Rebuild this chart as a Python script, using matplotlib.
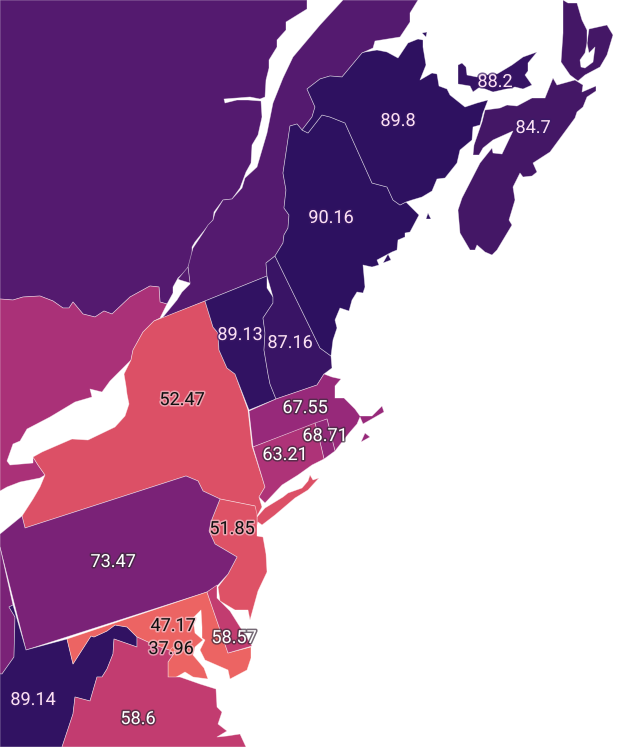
import matplotlib
matplotlib.use("Agg")
import matplotlib.pyplot as plt
import matplotlib.patheffects as pe
from matplotlib.collections import PolyCollection
from matplotlib.colors import Normalize, LinearSegmentedColormap

plt.rcParams['font.family'] = ['Roboto', 'DejaVu Sans']

quebec_w = [(0,0),(307,0),(307,9),(286,22),(286,30),(277,40),(277,47),(269,60),(269,68),(266,80),(265,97),(260,99),(250,97),(237,98),(224,99),(225,103),(237,100),(248,100),(261,101),(262,117),(258,135),(252,145),(251,163),(246,172),(240,188),(232,199),(223,200),(214,212),(213,220),(207,227),(195,242),(192,247),(192,258),(187,270),(178,278),(173,287),(173,293),(167,304),(160,302),(159,287),(150,286),(130,297),(112,314),(104,311),(95,317),(83,314),(73,302),(69,308),(63,308),(53,301),(40,296),(23,297),(13,300),(0,299)]
quebec_e = [(343,0),(418,0),(410,13),(410,22),(400,37),(375,41),(373,48),(362,53),(342,77),(330,76),(320,79),(307,89),(315,107),(312,117),(302,130),(297,124),(290,126),(283,173),(286,190),(284,208),(289,215),(288,228),(284,235),(283,243),(275,256),(266,263),(267,276),(205,301),(160,319),(163,317),(177,300),(182,292),(190,284),(188,267),(193,248),(203,233),(208,225),(213,220),(215,213),(223,200),(232,199),(242,188),(245,178),(257,167),(267,133),(273,103),(283,78),(293,57),(320,25)]
quebec_isle = [(178,279),(188,267),(190,283),(180,280)]
ontario = [(0,299),(13,300),(23,297),(40,296),(53,301),(63,308),(69,308),(73,302),(83,314),(95,317),(104,311),(112,314),(130,297),(150,286),(159,287),(160,302),(167,304),(160,318),(154,321),(143,332),(133,350),(131,360),(117,374),(110,381),(102,392),(90,389),(92,397),(75,402),(50,417),(27,429),(20,441),(13,444),(7,461),(10,465),(33,463),(33,457),(38,465),(45,475),(40,478),(20,482),(7,487),(0,491)]
new_york = [(154,321),(205,301),(213,327),(218,333),(219,350),(227,368),(235,374),(248,410),(252,446),(265,487),(259,497),(262,507),(256,518),(255,506),(220,499),(203,491),(198,481),(186,476),(25,528),(22,516),(33,499),(40,487),(45,475),(38,465),(33,457),(42,452),(72,439),(88,440),(115,427),(125,416),(129,404),(127,394),(126,386),(124,374),(131,360),(133,350),(143,332)]
long_island = [(257,517),(265,508),(283,497),(288,493),(302,488),(308,481),(310,475),(313,480),(319,478),(308,490),(295,498),(275,515),(262,525),(258,522),(257,525)]
vermont = [(205,301),(267,276),(267,288),(273,297),(273,303),(263,318),(265,333),(264,350),(268,374),(270,384),(276,399),(249,410),(235,374),(227,368),(219,350),(218,333),(213,327)]
new_hampshire = [(267,276),(273,297),(273,303),(263,318),(265,333),(264,350),(268,374),(270,384),(276,399),(317,385),(324,374),(332,368),(331,356),(320,348),(275,256),(266,263)]
maine = [(297,124),(302,130),(308,133),(322,115),(330,117),(345,123),(372,183),(387,187),(393,200),(400,205),(406,202),(419,215),(410,232),(405,233),(405,237),(398,240),(397,250),(392,252),(377,260),(379,265),(372,267),(363,265),(365,287),(363,293),(357,292),(352,300),(349,311),(340,308),(335,320),(337,328),(333,340),(331,356),(320,348),(275,256),(283,243),(284,235),(288,228),(289,215),(284,208),(286,190),(283,173),(290,126)]
maine_isle = [(383,263),(388,254),(391,260)]
new_brunswick = [(320,79),(307,89),(315,107),(312,117),(302,130),(308,133),(322,115),(330,117),(345,123),(372,183),(387,187),(393,200),(400,205),(406,202),(412,200),(422,197),(432,191),(437,179),(445,178),(457,163),(460,150),(472,140),(473,127),(480,125),(483,113),(488,100),(477,103),(465,107),(450,95),(447,89),(439,86),(437,74),(432,73),(420,80),(426,65),(423,47),(423,40),(418,39),(408,43),(398,58),(387,52),(377,50),(365,52),(362,53),(342,77),(330,76)]
nb_isle_a = [(422,33),(427,32),(426,37)]
nb_isle_b = [(426,219),(428,213),(431,219)]
pei = [(458,65),(462,63),(466,67),(467,75),(477,77),(487,75),(497,74),(512,65),(523,57),(537,52),(528,63),(528,71),(525,75),(532,85),(523,89),(515,87),(493,92),(480,87),(473,92),(470,86),(458,84)]
cape_breton = [(563,0),(568,3),(577,3),(582,20),(587,30),(587,43),(585,53),(580,60),(581,67),(585,68),(593,62),(595,47),(589,53),(587,43),(589,29),(607,25),(613,35),(607,55),(600,67),(585,75),(578,81),(570,75),(561,62),(563,33)]
nova_scotia = [(553,78),(557,85),(575,80),(583,85),(582,92),(596,86),(596,91),(587,97),(583,107),(577,112),(575,118),(550,152),(533,163),(537,172),(532,176),(523,177),(520,173),(513,187),(515,200),(509,220),(512,225),(497,250),(492,255),(485,252),(477,245),(475,250),(470,250),(460,233),(458,210),(462,198),(480,163),(492,148),(493,153),(502,154),(513,131),(493,140),(483,148),(479,155),(473,155),(474,145),(482,122),(485,110),(500,108),(507,105),(517,106),(532,98),(545,98)]
massachusetts = [(249,411),(276,399),(317,385),(324,374),(332,377),(341,379),(335,386),(335,398),(344,398),(355,409),(360,416),(372,416),(382,406),(384,412),(363,424),(360,417),(357,424),(350,432),(346,437),(335,451),(327,419),(253,447)]
ma_isle = [(361,442),(365,433),(370,437)]
rhode_island = [(315,423),(327,419),(335,451),(324,459),(320,442)]
connecticut = [(253,447),(315,423),(320,442),(324,459),(312,465),(298,475),(282,485),(265,503),(259,497),(265,487)]
new_jersey = [(220,499),(255,506),(257,514),(257,536),(263,537),(266,554),(267,572),(258,591),(250,620),(248,610),(235,610),(220,601),(218,587),(228,574),(237,557),(215,544),(209,531),(212,519)]
pennsylvania = [(25,528),(186,476),(198,481),(203,491),(220,499),(212,519),(209,531),(215,544),(237,557),(228,574),(218,585),(207,592),(26,650),(0,547),(0,534),(22,516)]
ohio = [(0,547),(13,605),(9,607),(15,617),(14,657),(2,674),(0,674)]
west_virginia = [(13,605),(26,650),(67,639),(73,664),(91,636),(94,637),(107,631),(115,625),(127,627),(137,637),(137,647),(114,639),(113,654),(107,669),(102,677),(97,677),(90,701),(75,697),(73,714),(62,747),(0,747),(0,674),(2,674),(14,657),(15,617),(9,607)]
maryland = [(207,592),(228,653),(251,647),(251,658),(247,670),(230,679),(228,670),(205,660),(200,650),(205,640),(202,638),(202,627),(201,610),(193,618),(195,633),(203,640),(195,647),(193,655),(204,668),(208,679),(193,677),(185,672),(173,679),(168,677),(168,662),(175,652),(163,648),(150,643),(137,637),(127,627),(115,625),(107,631),(94,637),(91,636),(73,664),(67,639)]
delaware = [(207,592),(217,585),(217,598),(230,611),(252,646),(228,653)]
virginia = [(137,637),(150,643),(163,648),(175,652),(168,662),(168,677),(180,677),(200,684),(216,689),(217,707),(222,712),(218,724),(227,731),(217,737),(227,736),(240,734),(246,747),(62,747),(73,714),(75,697),(90,701),(97,677),(102,677),(107,669),(113,654),(114,639),(137,647)]
dc = [(170,650),(173,647),(175,651),(172,653)]

region_outlines = [quebec_w, quebec_e, quebec_isle, ontario, new_york, long_island, vermont, new_hampshire, maine, maine_isle,
                   new_brunswick, nb_isle_a, nb_isle_b, pei, cape_breton, nova_scotia, massachusetts, ma_isle,
                   rhode_island, connecticut, new_jersey, pennsylvania, ohio, west_virginia, maryland, delaware, virginia, dc]
region_values = [81, 81, 81, 64, 52.47, 52.47, 89.13, 87.16, 90.16, 90.16,
                 89.8, 89.8, 90.16, 88.2, 84.7, 84.7, 67.55, 67.55,
                 68.71, 63.21, 51.85, 73.47, 73.47, 89.14, 47.17, 58.57, 58.6, 37.96]

label_text = ["89.8","88.2","84.7","90.16","89.13","87.16","52.47","67.55","68.71","63.21","51.85","73.47","47.17","37.96","58.57","89.14","58.6"]
label_x = [398,495,533,331,240,290,182,305,325,285,232,113,173,171,234,33,138]
label_y = [121,82,128,218,335,343,400,408,436,455,529,562,626,649,638,700,719]

scale_values = [37.96, 47.17, 52.47, 58.6, 63.21, 67.55, 73.47, 81, 84.7, 87.16, 90.16]
scale_colors = ['#f0675f', '#ec6463', '#dc5066', '#c23c70', '#ae3378', '#97297a', '#7b2277', '#551a6f', '#451766', '#3a1465', '#2d1160']

vmin, vmax = min(scale_values), max(scale_values)
cmap = LinearSegmentedColormap.from_list(
    "map_scale", [((v - vmin) / (vmax - vmin), c) for v, c in zip(scale_values, scale_colors)])

fig = plt.figure(figsize=(6.4, 7.47), dpi=100)
ax = fig.add_axes([0, 0, 1, 1])
ax.set_xlim(0, 640)
ax.set_ylim(747, 0)
ax.axis("off")

coll = PolyCollection(region_outlines, array=region_values, cmap=cmap,
                      norm=Normalize(vmin=vmin, vmax=vmax),
                      edgecolors=(1, 1, 1, 0.5), linewidths=0.5)
ax.add_collection(coll)

def style(v):
    if v >= 84:
        return '#fbdff3', '#3a1a66'
    if v < 55:
        return '#111111', '#f4c6cf'
    return '#ffffff', '#3a2a3a'

for t, x, y in zip(label_text, label_x, label_y):
    fg, halo = style(float(t))
    ax.text(x, y, t, ha='center', va='center', fontsize=13, color=fg,
            path_effects=[pe.withStroke(linewidth=2.2, foreground=halo, alpha=0.7)])

fig.savefig("out.png", dpi=100)
